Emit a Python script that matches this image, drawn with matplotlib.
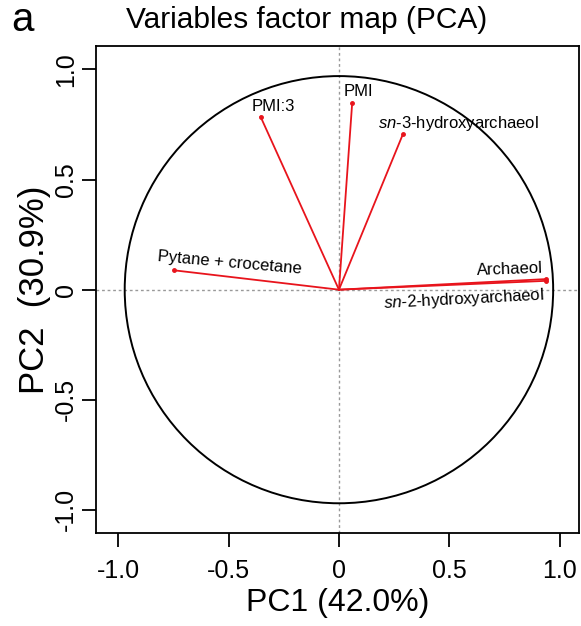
import numpy as np
import matplotlib.pyplot as plt
from matplotlib.patches import Circle

plt.rcParams['font.family'] = ['Liberation Sans', 'DejaVu Sans']
plt.rcParams['mathtext.fontset'] = 'custom'
plt.rcParams['mathtext.it'] = 'Liberation Sans:italic'
plt.rcParams['mathtext.rm'] = 'Liberation Sans'

# variable coordinates on the first two principal components
variables = ["PMI:3", "PMI", r"$\it{sn}$-3-hydroxyarchaeol",
             "Pytane + crocetane", "Archaeol", r"$\it{sn}$-2-hydroxyarchaeol"]
pc1 = [-0.355, 0.060, 0.290, -0.747, 0.936, 0.936]
pc2 = [0.786, 0.848, 0.707, 0.088, 0.048, 0.040]
pc1_var = 42.0
pc2_var = 30.9
circle_r = 0.97

tick_vals = [-1.0, -0.5, 0.0, 0.5, 1.0]
tick_labels = ["-1.0", "-0.5", "0", "0.5", "1.0"]

# label placement: (x, y, ha, rotation)
label_pos = [
    (-0.395, 0.834, 'left', 0),
    (0.020, 0.901, 'left', 0),
    (0.175, 0.755, 'left', 0),
    (-0.494, 0.122, 'center', -5),
    (0.925, 0.098, 'right', 2),
    (0.564, -0.045, 'center', 3),
]

fig = plt.figure(figsize=(5.81, 6.26), dpi=100)
ax = fig.add_axes([96 / 581, 1 - 533 / 626, 483 / 581, 487.3 / 626])

ax.set_xlim(-1.10, 1.087)
ax.set_ylim(-1.105, 1.108)

ax.axhline(0, color='#999999', lw=1, ls=(0, (2, 2)), zorder=1)
ax.axvline(0, color='#999999', lw=1, ls=(0, (2, 2)), zorder=1)
ax.add_patch(Circle((0, 0), circle_r, fill=False, ec='black', lw=1.4, zorder=2))

for x, y in zip(pc1, pc2):
    ax.plot([0, x], [0, y], color='#e8141c', lw=1.3, zorder=3)
    ax.plot(x, y, 'o', color='#e8141c', ms=2.5, zorder=3)

for name, (lx, ly, ha, rot) in zip(variables, label_pos):
    ax.text(lx, ly, name, ha=ha, va='center', fontsize=12, rotation=rot,
            rotation_mode='anchor', zorder=4)

ax.set_xticks(tick_vals)
ax.set_xticklabels(tick_labels)
ax.set_yticks(tick_vals)
ax.set_yticklabels(tick_labels, rotation=90, va='center')
ax.tick_params(direction='out', length=10, width=1.3, labelsize=18)
ax.tick_params(axis='x', pad=9)
ax.tick_params(axis='y', pad=3)
for s in ax.spines.values():
    s.set_linewidth(1.3)

ax.set_xlabel(f"PC1 ({pc1_var:.1f}%)", fontsize=23, labelpad=3)
ax.set_ylabel(f"PC2  ({pc2_var:.1f}%)", fontsize=25, labelpad=2)

fig.text(0.527, 0.968, "Variables factor map (PCA)", ha='center', va='center', fontsize=21.5)
fig.text(0.02, 0.968, "a", ha='left', va='center', fontsize=29)

fig.savefig("out.png", dpi=100)
